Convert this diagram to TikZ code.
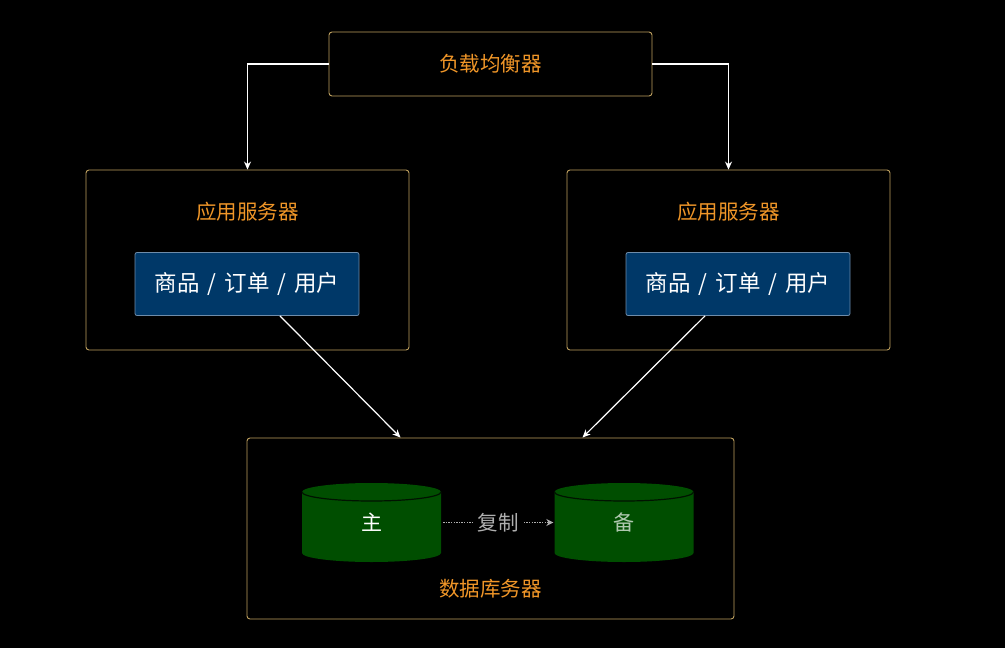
\documentclass[tikz,border=0pt]{standalone}
\usepackage{fontspec}
\setmainfont{Noto Sans CJK SC}
\usetikzlibrary{arrows.meta}
\definecolor{boxline}{RGB}{190,160,95}
\definecolor{orangetxt}{RGB}{240,150,40}
\definecolor{bluefill}{RGB}{0,56,104}
\definecolor{blueline}{RGB}{110,140,170}
\definecolor{dbgreen}{RGB}{0,78,0}
\definecolor{greytxt}{RGB}{175,175,175}
\definecolor{backtxt}{RGB}{175,200,175}
\tikzset{
  frame/.style={draw=boxline, line width=0.9pt, rounded corners=3pt, fill=black, inner sep=0pt},
  title/.style={text=orangetxt, font=\fontsize{20.5}{24}\selectfont},
  module/.style={draw=blueline, line width=0.8pt, fill=bluefill, rounded corners=2pt, text=white,
    font=\fontsize{22.5}{26}\selectfont, minimum width=224pt, minimum height=63pt, inner sep=0pt},
  conn/.style={draw=white, line width=1.2pt, -{Stealth[length=8pt,width=7pt]}},
  dbnode/.style={minimum width=139pt, minimum height=61pt, inner sep=0pt, font=\fontsize{21}{24}\selectfont},
}
\begin{document}
\begin{tikzpicture}[x=1pt,y=-1pt]
\fill[black] (0,0) rectangle (1005,648);
\useasboundingbox (0,0) rectangle (1005,648);

% load balancer
\node[frame, minimum width=323pt, minimum height=64pt] (lb) at (490.5,64) {};
\node[title] (lbt) at (490.5,64) {负载均衡器};

% app servers
\node[frame, minimum width=323pt, minimum height=180pt] (appL) at (247.5,260) {};
\node[title] (appLt) at (247.5,212) {应用服务器};
\node[module] (modL) at (247,284) {商品\hspace{0.35em}/\hspace{0.35em}订单\hspace{0.35em}/\hspace{0.35em}用户};

\node[frame, minimum width=323pt, minimum height=180pt] (appR) at (728.5,260) {};
\node[title] (appRt) at (728.5,212) {应用服务器};
\node[module] (modR) at (738,284) {商品\hspace{0.35em}/\hspace{0.35em}订单\hspace{0.35em}/\hspace{0.35em}用户};

% database server
\node[frame, minimum width=487pt, minimum height=181pt] (db) at (490.5,528.5) {};
\node[title] (dbt) at (490.5,589) {数据库务器};

% cylinders
\foreach \cx in {371.5, 624}{
  \fill[dbgreen] (\cx-69.5,492) -- (\cx-69.5,553) arc (180:360:69.5pt and 9pt)
     -- (\cx+69.5,492) arc (0:180:69.5pt and 9pt) -- cycle;
  \draw[black!75!dbgreen, line width=1.2pt] (\cx-69.5,492) arc (180:360:69.5pt and 9pt);
}
\node[dbnode, text=white] (master) at (371.5,522.5) {主};
\node[dbnode, text=backtxt] (backup) at (624,522.5) {备};

% connectors
\draw[conn] (lb.west) -| (appL.north);
\draw[conn] (lb.east) -| (appR.north);
\draw[conn] ([xshift=33pt]modL.south) -- ([xshift=-90pt]db.north);
\draw[conn] ([xshift=-33pt]modR.south) -- ([xshift=92pt]db.north);
\draw[greytxt, line width=1.3pt, dash pattern=on 1.3pt off 1.3pt, -{Stealth[length=7pt,width=7pt]}]
  ([xshift=2pt]master.east) -- node[fill=black, text=greytxt, font=\fontsize{20.5}{24}\selectfont, inner xsep=5pt] (rep) {复制} ([xshift=-1pt]backup.west);
\end{tikzpicture}
\end{document}
